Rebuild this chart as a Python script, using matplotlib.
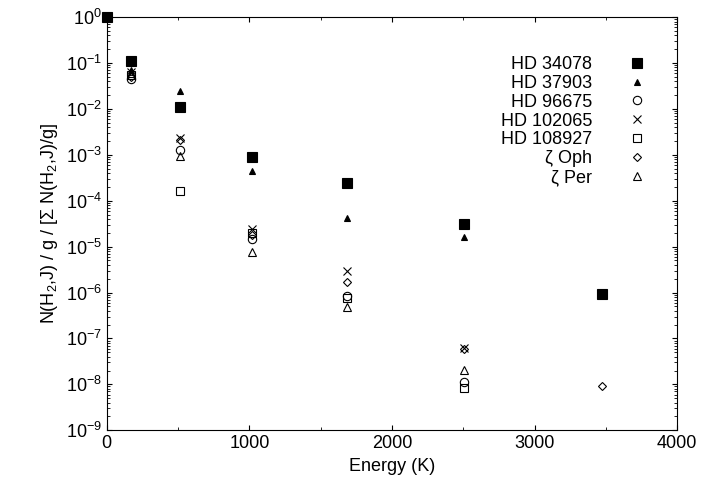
import numpy as np
import matplotlib.pyplot as plt

plt.rcParams['font.family'] = ['Liberation Sans', 'DejaVu Sans']
plt.rcParams['mathtext.fontset'] = 'custom'
plt.rcParams['mathtext.rm'] = 'Liberation Sans'
plt.rcParams['mathtext.it'] = 'Liberation Sans:italic'

energy = [0, 170, 510, 1015, 1682, 2504, 3474]

names = ['HD 34078', 'HD 37903', 'HD 96675', 'HD 102065', 'HD 108927',
         '\u03b6 Oph', '\u03b6 Per']
hd34078 = [1, 0.11, 0.011, 9e-4, 2.4e-4, 3.1e-5, 9.5e-7]
hd37903 = [1, 0.07, 0.024, 4.5e-4, 4.3e-5, 1.6e-5, None]
hd96675 = [1, 0.045, 0.0013, 1.5e-5, 8.5e-7, 1.1e-8, None]
hd102065 = [1, 0.065, 0.0023, 2.4e-5, 3e-6, 6.3e-8, None]
hd108927 = [1, 0.055, 1.6e-4, 2e-5, 7.5e-7, 8.5e-9, None]
zeta_oph = [1, 0.05, 0.0021, 1.8e-5, 1.7e-6, 5.8e-8, 9e-9]
zeta_per = [1, 0.06, 9.5e-4, 7.5e-6, 4.8e-7, 2.1e-8, None]

series = [hd34078, hd37903, hd96675, hd102065, hd108927, zeta_oph, zeta_per]
styles = [
    dict(marker='s', color='black', ms=7),
    dict(marker='^', color='black', ms=5),
    dict(marker='o', mfc='none', mec='black', ms=6),
    dict(marker='x', color='black', ms=6),
    dict(marker='s', mfc='none', mec='black', ms=6),
    dict(marker='D', mfc='none', mec='black', ms=4.5),
    dict(marker='^', mfc='none', mec='black', ms=5.5),
]

fig = plt.figure(figsize=(7.07, 4.9), dpi=100)
ax = fig.add_axes([0.151, 0.122, 0.807, 0.843])

for name, vals, st in zip(names, series, styles):
    xs = [e for e, v in zip(energy, vals) if v is not None]
    ys = [v for v in vals if v is not None]
    ax.plot(xs, ys, ls='none', label=name, mew=0.8, clip_on=False, **st)

ax.set_yscale('log')
ax.set_xlim(0, 4000)
ax.set_ylim(1e-9, 1)
ax.set_xticks([0, 1000, 2000, 3000, 4000])
ax.set_xticks(np.arange(500, 4000, 1000), minor=True)
ax.tick_params(which='both', direction='in', top=True, right=True, labelsize=13)
ax.set_xlabel('Energy (K)', fontsize=13)
ax.set_ylabel(r'N(H$_2$,J) / g / [$\Sigma$ N(H$_2$,J)/g]', fontsize=13)
ax.legend(loc='upper right', frameon=False, markerfirst=False, fontsize=13,
          handletextpad=1.5, labelspacing=0.1, bbox_to_anchor=(0.99, 0.945))

fig.savefig('out.png')
